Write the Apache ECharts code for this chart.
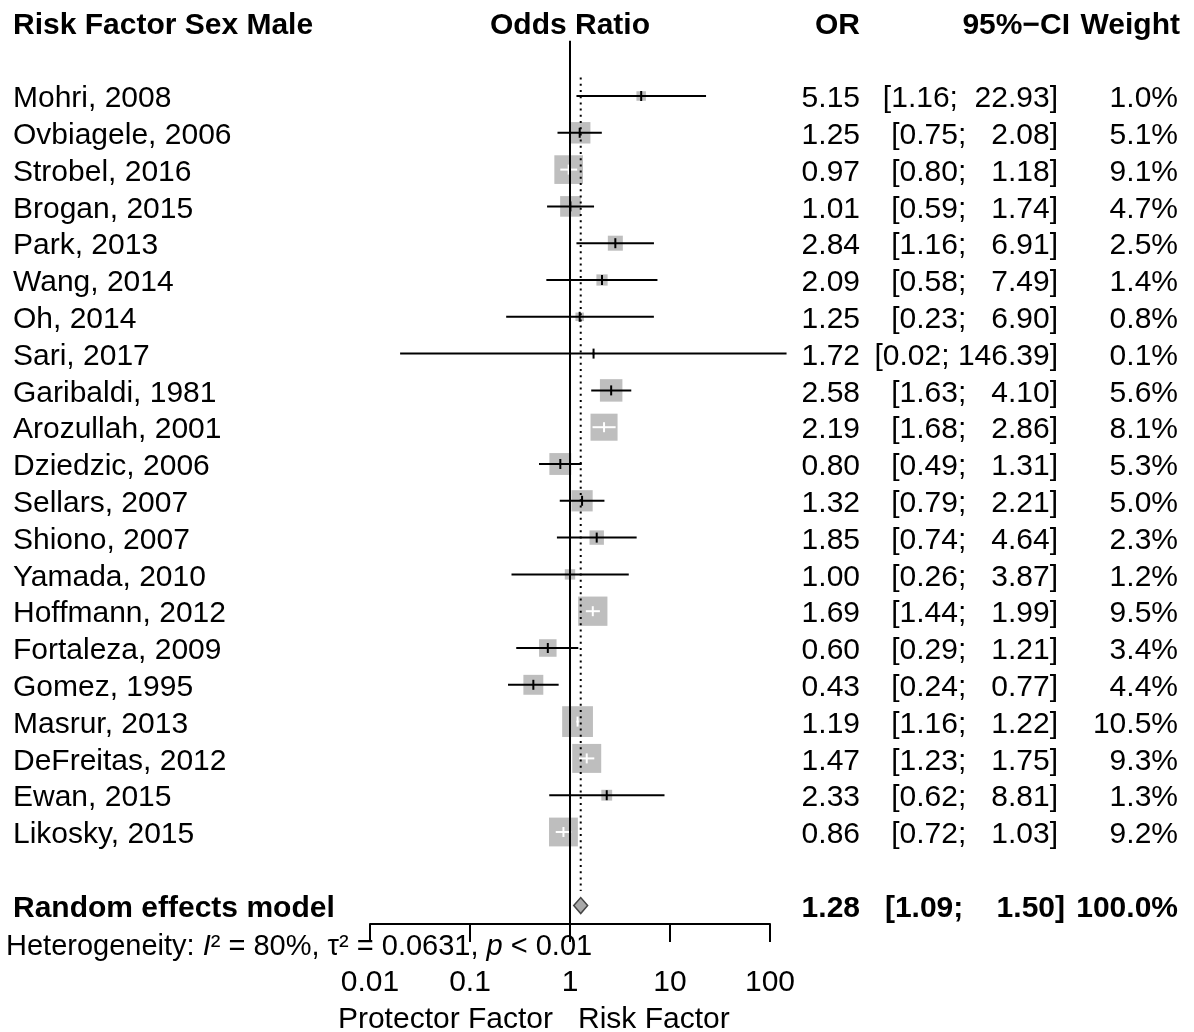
<!DOCTYPE html>
<html>
<head>
<meta charset="utf-8">
<script src="https://cdn.jsdelivr.net/npm/echarts@6/dist/echarts.min.js"></script>
<style>
  html, body { margin: 0; padding: 0; background: #fff; }
  #chart { width: 1194px; height: 1032px; }
</style>
</head>
<body>
<div id="chart"></div>
<script>
// Forest plot: risk factor "sex male", random effects meta-analysis.

const studies = [
  'Mohri, 2008', 'Ovbiagele, 2006', 'Strobel, 2016', 'Brogan, 2015', 'Park, 2013',
  'Wang, 2014', 'Oh, 2014', 'Sari, 2017', 'Garibaldi, 1981', 'Arozullah, 2001',
  'Dziedzic, 2006', 'Sellars, 2007', 'Shiono, 2007', 'Yamada, 2010', 'Hoffmann, 2012',
  'Fortaleza, 2009', 'Gomez, 1995', 'Masrur, 2013', 'DeFreitas, 2012', 'Ewan, 2015',
  'Likosky, 2015'
];
const orValues = [5.15, 1.25, 0.97, 1.01, 2.84, 2.09, 1.25, 1.72, 2.58, 2.19, 0.80,
  1.32, 1.85, 1.00, 1.69, 0.60, 0.43, 1.19, 1.47, 2.33, 0.86];
const ciLower = [1.16, 0.75, 0.80, 0.59, 1.16, 0.58, 0.23, 0.02, 1.63, 1.68, 0.49,
  0.79, 0.74, 0.26, 1.44, 0.29, 0.24, 1.16, 1.23, 0.62, 0.72];
const ciUpper = [22.93, 2.08, 1.18, 1.74, 6.91, 7.49, 6.90, 146.39, 4.10, 2.86, 1.31,
  2.21, 4.64, 3.87, 1.99, 1.21, 0.77, 1.22, 1.75, 8.81, 1.03];
const weights = [1.0, 5.1, 9.1, 4.7, 2.5, 1.4, 0.8, 0.1, 5.6, 8.1, 5.3,
  5.0, 2.3, 1.2, 9.5, 3.4, 4.4, 10.5, 9.3, 1.3, 9.2];

const pooledLabel = 'Random effects model';
const pooledOR = 1.28;
const pooledLower = 1.09;
const pooledUpper = 1.50;
const pooledWeight = 100.0;

const hetI2 = 80;
const hetTau2 = 0.0631;
const hetP = '< 0.01';

const headers = ['Risk Factor Sex Male', 'Odds Ratio', 'OR', '95%\u2212CI', 'Weight'];
const tickLabels = ['0.01', '0.1', '1', '10', '100'];
const sideLabels = ['Protector Factor', 'Risk Factor'];

const FONT = '"Liberation Sans", Arial, Helvetica, sans-serif';
const FS = 30;
const TEXT_DY = 3; // canvas 'middle' sits a bit high against the R output
const POOLED_ROW = studies.length + 1;
const BOX_SCALE = 9.5;
const LW = 2;

function fmtCI(lo, up, pad) {
  return '[' + lo.toFixed(2) + '; ' + up.toFixed(2).padStart(pad) + ']';
}

// table rows built from the arrays above
const tableRows = studies.map((name, i) => ({
  row: i,
  bold: false,
  cells: [name, orValues[i].toFixed(2), fmtCI(ciLower[i], ciUpper[i], 6), weights[i].toFixed(1) + '%']
}));
tableRows.push({
  row: POOLED_ROW,
  bold: true,
  cells: [pooledLabel, pooledOR.toFixed(2), fmtCI(pooledLower, pooledUpper, 7), pooledWeight.toFixed(1) + '%']
});

const COLS = [
  { x: 13, align: 'left' },
  { x: 860, align: 'right' },
  { x: 1058, align: 'right', boldX: 1065 },
  { x: 1178, align: 'right' }
];

function renderStudy(params, api) {
  const est = api.value(0), lo = api.value(1), up = api.value(2), w = api.value(3), row = api.value(4);
  const c = api.coord([est, row]);
  const xl = api.coord([lo, row])[0];
  const xu = api.coord([up, row])[0];
  const side = BOX_SCALE * Math.sqrt(w);
  const half = side / 2;
  // CI fully inside the square -> drawn in white, like meta's col.inside
  const inside = xl >= c[0] - half && xu <= c[0] + half;
  const col = inside ? '#fff' : '#000';
  return {
    type: 'group',
    children: [
      { type: 'rect', shape: { x: c[0] - half, y: c[1] - half, width: side, height: side }, style: { fill: '#BEBEBE' } },
      { type: 'line', shape: { x1: xl, y1: c[1], x2: xu, y2: c[1] }, style: { stroke: col, lineWidth: LW } },
      { type: 'line', shape: { x1: c[0], y1: c[1] - 5, x2: c[0], y2: c[1] + 5 }, style: { stroke: col, lineWidth: LW } }
    ]
  };
}

function renderDiamond(params, api) {
  const row = api.value(3);
  const pe = api.coord([api.value(0), row]);
  const pl = api.coord([api.value(1), row]);
  const pu = api.coord([api.value(2), row]);
  const hh = 8;
  return {
    type: 'polygon',
    shape: { points: [[pl[0], pe[1]], [pe[0], pe[1] - hh], [pu[0], pe[1]], [pe[0], pe[1] + hh]] },
    style: { fill: '#A8A8A8', stroke: '#444', lineWidth: 1.5 }
  };
}

function renderTable(params, api) {
  const r = tableRows[params.dataIndex];
  const y = api.coord([1, r.row])[1] + TEXT_DY;
  return {
    type: 'group',
    children: r.cells.map((txt, k) => ({
      type: 'text',
      style: {
        x: r.bold && COLS[k].boldX ? COLS[k].boldX : COLS[k].x,
        y: y,
        text: txt,
        align: COLS[k].align,
        verticalAlign: 'middle',
        font: (r.bold ? 'bold ' : '') + FS + 'px ' + FONT,
        fill: '#000'
      }
    }))
  };
}

const chart = echarts.init(document.getElementById('chart'), null, { renderer: 'canvas' });

const headerY = 26;
const boldFont = 'bold ' + FS + 'px ' + FONT;
const plainFont = FS + 'px ' + FONT;

chart.setOption({
  animation: false,
  backgroundColor: '#fff',
  grid: { left: 370, top: 40.8, width: 400, height: 883.2, containLabel: false },
  xAxis: {
    type: 'log',
    logBase: 10,
    min: 0.01,
    max: 100,
    axisLine: { onZero: false, lineStyle: { color: '#000', width: LW } },
    axisTick: { length: 18, lineStyle: { color: '#000', width: LW } },
    minorTick: { show: false },
    splitLine: { show: false },
    axisLabel: {
      color: '#000',
      fontSize: FS,
      fontFamily: FONT,
      margin: 44,
      formatter: (v, i) => tickLabels[i]
    }
  },
  yAxis: { type: 'value', inverse: true, min: -1.5, max: 22.5, show: false },
  series: [
    {
      type: 'line',
      silent: true,
      symbol: 'none',
      data: [[1, -1.5], [1, 22.5]],
      lineStyle: { color: '#000', width: LW }
    },
    {
      type: 'line',
      silent: true,
      symbol: 'none',
      data: [[pooledOR, -0.5], [pooledOR, 21.6]],
      lineStyle: { color: '#000', width: LW, type: [2, 4.2] }
    },
    {
      type: 'custom',
      silent: true,
      renderItem: renderStudy,
      encode: { x: [0, 1, 2], y: 4 },
      data: studies.map((s, i) => [orValues[i], ciLower[i], ciUpper[i], weights[i], i])
    },
    {
      type: 'custom',
      silent: true,
      renderItem: renderDiamond,
      encode: { x: [0, 1, 2], y: 3 },
      data: [[pooledOR, pooledLower, pooledUpper, POOLED_ROW]]
    },
    {
      type: 'custom',
      silent: true,
      clip: false,
      renderItem: renderTable,
      encode: { x: 0, y: 1 },
      data: tableRows.map(r => [1, r.row])
    }
  ],
  graphic: [
    { type: 'text', style: { x: 13, y: headerY, text: headers[0], align: 'left', verticalAlign: 'middle', font: boldFont, fill: '#000' } },
    { type: 'text', style: { x: 570, y: headerY, text: headers[1], align: 'center', verticalAlign: 'middle', font: boldFont, fill: '#000' } },
    { type: 'text', style: { x: 860, y: headerY, text: headers[2], align: 'right', verticalAlign: 'middle', font: boldFont, fill: '#000' } },
    { type: 'text', style: { x: 1070, y: headerY, text: headers[3], align: 'right', verticalAlign: 'middle', font: boldFont, fill: '#000' } },
    { type: 'text', style: { x: 1180, y: headerY, text: headers[4], align: 'right', verticalAlign: 'middle', font: boldFont, fill: '#000' } },
    {
      type: 'text',
      style: {
        x: 6, y: 947, align: 'left', verticalAlign: 'middle',
        text: '{n|Heterogeneity: }{i|I}{n|\u00B2 = ' + hetI2 + '%, \u03C4\u00B2 = ' + hetTau2 + ', }{i|p}{n| ' + hetP + '}',
        rich: {
          n: { fontSize: 29, fontFamily: FONT, fill: '#000' },
          i: { fontSize: 29, fontFamily: FONT, fontStyle: 'italic', fill: '#000' }
        }
      }
    },
    { type: 'text', style: { x: 553, y: 1020, text: sideLabels[0], align: 'right', verticalAlign: 'middle', font: plainFont, fill: '#000' } },
    { type: 'text', style: { x: 578, y: 1020, text: sideLabels[1], align: 'left', verticalAlign: 'middle', font: plainFont, fill: '#000' } }
  ]
});
</script>
</body>
</html>
